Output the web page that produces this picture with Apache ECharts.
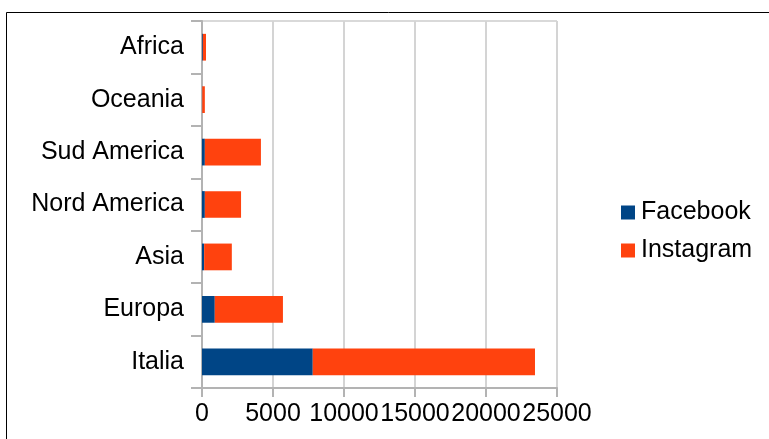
<!DOCTYPE html>
<html>
<head>
<meta charset="utf-8">
<script src="https://cdn.jsdelivr.net/npm/echarts@6/dist/echarts.min.js"></script>
<style>
  html, body { margin: 0; padding: 0; background: #fff; }
  #chart { width: 769px; height: 439px; }
</style>
</head>
<body>
<div id="chart"></div>
<script>
  // dati (dal basso verso l'alto)
  var categories = ['Italia', 'Europa', 'Asia', 'Nord America', 'Sud America', 'Oceania', 'Africa'];
  var facebook = [7800, 900, 150, 200, 200, 20, 60];
  var instagram = [15650, 4800, 1950, 2550, 3950, 180, 220];
  var xTicks = [0, 5000, 10000, 15000, 20000, 25000];

  var myChart = echarts.init(document.getElementById('chart'));
  var font = 'Liberation Sans';
  var option = {
    animation: false,
    textStyle: { fontFamily: font },
    color: ['#004586', '#ff420e'],
    graphic: [{
      type: 'rect',
      shape: { x: 6.5, y: 12.5, width: 800, height: 500 },
      style: { fill: 'none', stroke: '#000', lineWidth: 1 }
    }],
    grid: {
      left: 202, right: 212, top: 21, bottom: 51,
      show: true, borderColor: '#b3b3b3', borderWidth: 1
    },
    legend: {
      orient: 'vertical',
      left: 616, top: 195,
      itemWidth: 14, itemHeight: 14, itemGap: 13,
      icon: 'rect',
      textStyle: { fontSize: 25, color: '#000', fontFamily: font, padding: [0, 0, 0, 1] },
      data: ['Facebook', 'Instagram']
    },
    xAxis: {
      type: 'value',
      min: xTicks[0], max: xTicks[xTicks.length - 1], interval: 5000,
      axisLine: { show: true, lineStyle: { color: '#b3b3b3', width: 2 } },
      axisTick: { show: true, length: 9, lineStyle: { color: '#b3b3b3', width: 2 } },
      splitLine: { show: true, lineStyle: { color: '#d4d4d4', width: 2 } },
      axisLabel: {
        fontSize: 25, color: '#000', margin: 14, fontFamily: font,
        hideOverlap: false, showMinLabel: true, showMaxLabel: true,
        formatter: function (v) { return String(v); }
      }
    },
    yAxis: {
      type: 'category',
      data: categories,
      axisLine: { show: true, lineStyle: { color: '#b3b3b3', width: 2 } },
      axisTick: { show: true, length: 11, lineStyle: { color: '#b3b3b3', width: 2 } },
      splitLine: { show: false },
      axisLabel: { fontSize: 25, color: '#000', margin: 18, fontFamily: font, padding: [3, 0, 0, 0] }
    },
    series: [
      { name: 'Facebook', type: 'bar', stack: 'tot', barWidth: '51%', data: facebook },
      { name: 'Instagram', type: 'bar', stack: 'tot', barWidth: '51%', data: instagram }
    ]
  };
  myChart.setOption(option);
</script>
</body>
</html>
